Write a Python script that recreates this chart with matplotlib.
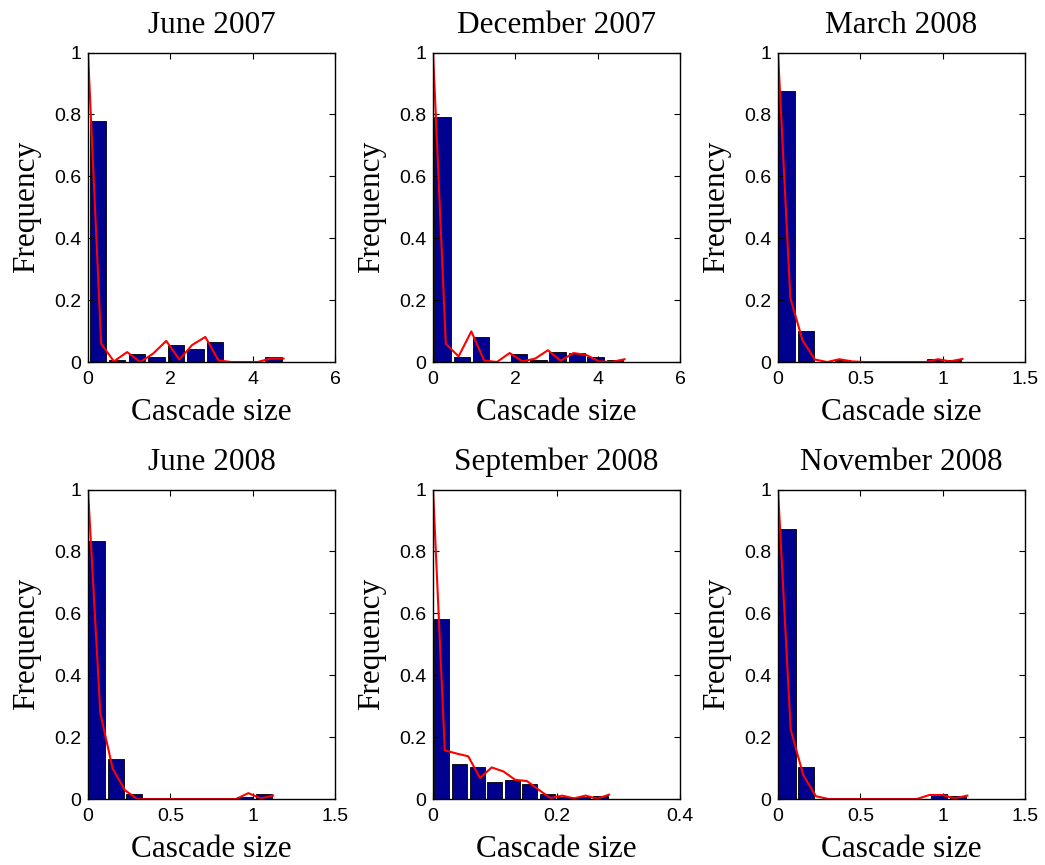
import numpy as np
import matplotlib.pyplot as plt
from matplotlib.ticker import FormatStrFormatter

# Distribuciones de tamaño de cascada por fecha
titles = ["June 2007", "December 2007", "March 2008",
          "June 2008", "September 2008", "November 2008"]

# Centros de las barras del histograma (10 clases)
centers_jun07 = [0.24, 0.71, 1.19, 1.66, 2.14, 2.61, 3.09, 3.56, 4.04, 4.51]
centers_dec07 = [0.23, 0.70, 1.16, 1.63, 2.09, 2.56, 3.02, 3.49, 3.95, 4.42]
centers_mar08 = [0.056, 0.168, 0.280, 0.392, 0.504, 0.616, 0.728, 0.840, 0.952, 1.064]
centers_jun08 = [0.056, 0.169, 0.281, 0.393, 0.506, 0.618, 0.731, 0.843, 0.955, 1.068]
centers_sep08 = [0.0143, 0.0428, 0.0713, 0.0998, 0.1283, 0.1568, 0.1853, 0.2138, 0.2423, 0.2708]
centers_nov08 = [0.0575, 0.1725, 0.2875, 0.4025, 0.5175, 0.6325, 0.7475, 0.8625, 0.9775, 1.0925]

# Frecuencias relativas de cada clase
freq_jun07 = [0.779, 0.008, 0.026, 0.017, 0.056, 0.041, 0.065, 0, 0, 0.016]
freq_dec07 = [0.791, 0.016, 0.081, 0, 0.025, 0.008, 0.032, 0.029, 0.016, 0.008]
freq_mar08 = [0.877, 0.100, 0, 0.008, 0, 0, 0, 0, 0.009, 0.008]
freq_jun08 = [0.833, 0.129, 0.017, 0, 0, 0, 0, 0, 0.005, 0.017]
freq_sep08 = [0.580, 0.112, 0.104, 0.056, 0.063, 0.049, 0.017, 0.006, 0.006, 0.009]
freq_nov08 = [0.874, 0.104, 0, 0, 0, 0, 0, 0, 0.017, 0.009]

# Curva del modelo (16 puntos)
x_jun07 = [0, 0.32, 0.63, 0.95, 1.27, 1.58, 1.90, 2.22, 2.53, 2.85, 3.17, 3.48, 3.80, 4.12, 4.43, 4.75]
y_jun07 = [1, 0.059, 0.002, 0.032, 0, 0.027, 0.068, 0.008, 0.055, 0.081, 0.005, 0, 0, 0, 0.011, 0.011]
x_dec07 = [0, 0.31, 0.62, 0.93, 1.24, 1.55, 1.86, 2.17, 2.48, 2.79, 3.10, 3.41, 3.72, 4.03, 4.34, 4.65]
y_dec07 = [1, 0.059, 0.018, 0.099, 0.005, 0, 0.029, 0.002, 0.011, 0.038, 0.004, 0.029, 0.023, 0.002, 0, 0.009]
x_mar08 = [0, 0.075, 0.149, 0.224, 0.299, 0.373, 0.448, 0.523, 0.597, 0.672, 0.747, 0.821, 0.896, 0.971, 1.045, 1.12]
y_mar08 = [1, 0.207, 0.070, 0.008, 0, 0.009, 0.002, 0, 0, 0, 0, 0, 0, 0.009, 0.002, 0.010]
x_jun08 = [0, 0.075, 0.150, 0.225, 0.300, 0.375, 0.450, 0.525, 0.599, 0.674, 0.749, 0.824, 0.899, 0.974, 1.049, 1.124]
y_jun08 = [1, 0.277, 0.098, 0.028, 0, 0, 0, 0, 0, 0, 0, 0, 0, 0.019, 0.002, 0.011]
x_sep08 = [0, 0.019, 0.038, 0.057, 0.076, 0.095, 0.114, 0.133, 0.152, 0.171, 0.190, 0.209, 0.228, 0.247, 0.266, 0.285]
y_sep08 = [1, 0.157, 0.147, 0.138, 0.068, 0.102, 0.089, 0.062, 0.058, 0.030, 0.003, 0.011, 0.002, 0.011, 0.001, 0.014]
x_nov08 = [0, 0.077, 0.153, 0.230, 0.307, 0.383, 0.460, 0.537, 0.613, 0.690, 0.767, 0.843, 0.920, 0.997, 1.073, 1.15]
y_nov08 = [1, 0.224, 0.078, 0.009, 0, 0, 0, 0, 0, 0, 0, 0, 0.013, 0.013, 0.002, 0.011]

# Límites y marcas del eje x
xlims = [6, 6, 1.5, 1.5, 0.4, 1.5]
xticks = [[0, 2, 4, 6], [0, 2, 4, 6], [0, 0.5, 1, 1.5],
          [0, 0.5, 1, 1.5], [0, 0.2, 0.4], [0, 0.5, 1, 1.5]]

centers = [centers_jun07, centers_dec07, centers_mar08, centers_jun08, centers_sep08, centers_nov08]
freqs = [freq_jun07, freq_dec07, freq_mar08, freq_jun08, freq_sep08, freq_nov08]
lx = [x_jun07, x_dec07, x_mar08, x_jun08, x_sep08, x_nov08]
ly = [y_jun07, y_dec07, y_mar08, y_jun08, y_sep08, y_nov08]

serif = "Liberation Serif"
sans = "Liberation Sans"

fig = plt.figure(figsize=(10.45, 8.65), dpi=100)

lefts = [0.0842, 0.4144, 0.7445]
bottoms = [0.5815, 0.0763]
w, h = 0.2364, 0.3578

for i in range(6):
    ax = fig.add_axes([lefts[i % 3], bottoms[i // 3], w, h])
    c = centers[i]
    bw = 0.85 * (c[1] - c[0])
    ax.bar(c, freqs[i], width=bw, color="#00008F", edgecolor="black", linewidth=0.6)
    ax.plot(lx[i], ly[i], color="red", linewidth=1.5)
    ax.set_xlim(0, xlims[i])
    ax.set_ylim(0, 1)
    ax.set_xticks(xticks[i])
    ax.set_yticks([0, 0.2, 0.4, 0.6, 0.8, 1])
    ax.xaxis.set_major_formatter(FormatStrFormatter("%g"))
    ax.yaxis.set_major_formatter(FormatStrFormatter("%g"))
    ax.tick_params(direction="in", length=4, width=0.8, top=True, right=True,
                   labelsize=14)
    ax.tick_params(axis="x", pad=6.5)
    ax.tick_params(axis="y", pad=5)
    for lab in ax.get_xticklabels() + ax.get_yticklabels():
        lab.set_family(sans)
    for s in ax.spines.values():
        s.set_linewidth(1.0)
    ax.set_title(titles[i], fontsize=22.5, family=serif, pad=14)
    ax.set_xlabel("Cascade size", fontsize=22.5, family=serif, labelpad=7)
    ax.set_ylabel("Frequency", fontsize=22.5, family=serif, labelpad=9)

fig.savefig("out.png", dpi=100)
